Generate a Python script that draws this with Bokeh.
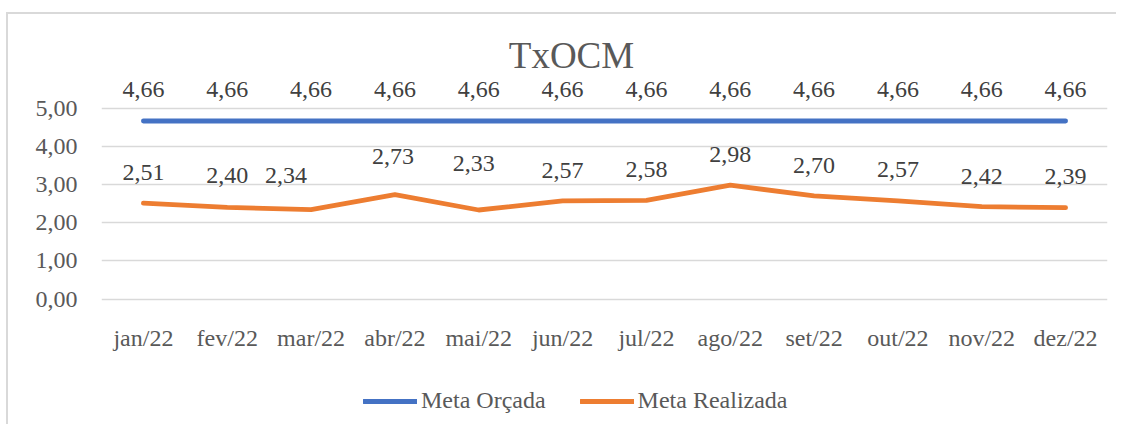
from bokeh.plotting import figure
from bokeh.models import (ColumnDataSource, Range1d, FixedTicker, Label, Legend,
                          LegendItem, CustomJSTickFormatter, Spacer)
from bokeh.layouts import column, row
from bokeh.core.properties import value
from bokeh.embed import file_html
from bokeh.resources import INLINE

months = ["jan/22", "fev/22", "mar/22", "abr/22", "mai/22", "jun/22",
          "jul/22", "ago/22", "set/22", "out/22", "nov/22", "dez/22"]
meta_orcada = [4.66] * 12
meta_realizada = [2.51, 2.40, 2.34, 2.73, 2.33, 2.57, 2.58, 2.98, 2.70, 2.57, 2.42, 2.39]
y_ticks = [0, 1, 2, 3, 4, 5]

# label placement (screen offsets, styling only)
orc_dy = [-31] * 12
real_dx = [0, 0, -25, -2, -5, 0, 0, 0, 0, 0, 0, 0]
real_dy = [-31, -32, -34, -38, -47, -30, -31, -31, -30, -31, -30, -31]

FONT = "Liberation Serif"
BLUE = "#4472C4"
ORANGE = "#ED7D31"

def fmt(v):
    return f"{v:.2f}".replace(".", ",")

src_o = ColumnDataSource(dict(x=months, y=meta_orcada,
                              t=[fmt(v) for v in meta_orcada], dy=orc_dy))
src_r = ColumnDataSource(dict(x=months, y=meta_realizada,
                              t=[fmt(v) for v in meta_realizada],
                              dx=real_dx, dy=real_dy))

p = figure(x_range=months, y_range=Range1d(-3.285, 7.317), width=1110, height=412,
           output_backend="svg", toolbar_location=None,
           min_border_left=93, min_border_right=11, min_border_top=5,
           min_border_bottom=2)
p.styles = {"border-left": "2px solid #d9d9d9", "border-top": "2px solid #d9d9d9"}
p.outline_line_color = None
p.background_fill_color = "white"
p.border_fill_color = "white"

p.xgrid.grid_line_color = None
p.ygrid.grid_line_color = "#d9d9d9"
p.ygrid.grid_line_width = 1.3
p.yaxis.ticker = FixedTicker(ticks=y_ticks)
p.yaxis.formatter = CustomJSTickFormatter(code="return tick.toFixed(2).replace('.', ',');")
p.xaxis.fixed_location = 0

for ax in (p.xaxis, p.yaxis):
    ax.axis_line_color = None
    ax.major_tick_line_color = None
    ax.minor_tick_line_color = None
    ax.major_tick_out = 0
    ax.major_tick_in = 0
    ax.major_label_text_font = FONT
    ax.major_label_text_font_size = "24px"
    ax.major_label_text_color = "#595959"
p.yaxis.major_label_standoff = 24
p.xaxis.major_label_standoff = 26

r1 = p.line("x", "y", source=src_o, line_color=BLUE, line_width=4.8,
            line_cap="round", line_join="round")
r2 = p.line("x", "y", source=src_r, line_color=ORANGE, line_width=4.8,
            line_cap="round", line_join="round")

p.text("x", "y", text="t", source=src_o, y_offset="dy", text_align="center",
       text_baseline="middle", text_font=value(FONT), text_font_size="24px",
       text_color="#404040")
p.text("x", "y", text="t", source=src_r, x_offset="dx", y_offset="dy",
       text_align="center", text_baseline="middle", text_font=value(FONT),
       text_font_size="24px", text_color="#404040")

title = Label(x=470, y=6.38, x_units="screen", y_units="data", text="TxOCM",
              text_align="center", text_baseline="middle", text_font=FONT,
              text_font_size="37px", text_color="#595959")
p.add_layout(title)

legend = Legend(items=[LegendItem(label="Meta Orçada", renderers=[r1]),
                       LegendItem(label="Meta Realizada", renderers=[r2])],
                orientation="horizontal", location=(262, 10),
                glyph_width=54, glyph_height=24, label_standoff=4, spacing=34,
                padding=0, margin=0, border_line_color=None,
                background_fill_alpha=0, label_text_font=FONT,
                label_text_font_size="24px", label_text_color="#595959")
p.add_layout(legend, "center")

layout = row(Spacer(width=6), column(Spacer(height=12), p))
open("out.html", "w").write(file_html(layout, INLINE))
